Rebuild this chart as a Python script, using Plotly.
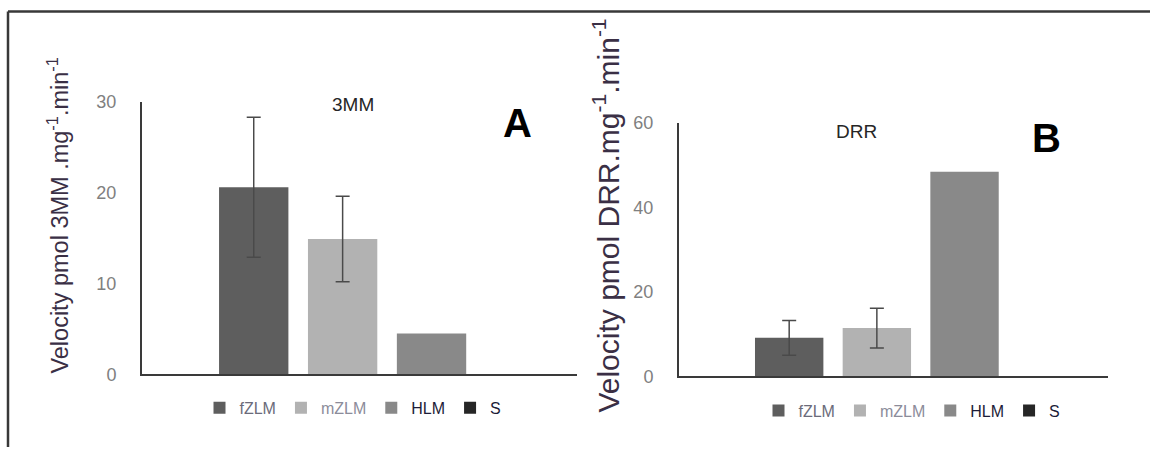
import plotly.graph_objects as go

# ---- data ----
series = ["fZLM", "mZLM", "HLM", "S"]
colors = ["#5e5e5e", "#b2b2b2", "#898989", "#262626"]
legend_text_colors = ["#6b6b7a", "#8c8c9a", "#1c1c38", "#1c1c38"]
vals_3mm = [20.6, 14.9, 4.5, 0.0]
err_3mm = [7.7, 4.7, None, None]
vals_drr = [9.1, 11.4, 48.4, 0.0]
err_drr = [4.1, 4.7, None, None]
yticks_a = [0, 10, 20, 30]
yticks_b = [0, 20, 40, 60]

W, H = 1150, 457
def px(x): return x / W
def py(y): return 1 - y / H

fig = go.Figure()
cat = [""]
for i, s in enumerate(series):
    name = f'<span style="color:{legend_text_colors[i]}">{s}</span>'
    for vals, errs, xa, ya, lg in [
        (vals_3mm, err_3mm, "x", "y", "legend"),
        (vals_drr, err_drr, "x2", "y2", "legend2"),
    ]:
        e = errs[i]
        fig.add_trace(go.Bar(
            x=cat, y=[vals[i]], name=name, marker_color=colors[i],
            marker_line_width=0, xaxis=xa, yaxis=ya, legend=lg,
            error_y=dict(type="data", array=[e] if e is not None else [0],
                         visible=e is not None, color="#4a4a4a",
                         thickness=1.5, width=7),
            hoverinfo="skip",
        ))

rng = [-0.5634, 0.4366]
axis_common = dict(showline=True, linecolor="#3a3a3a", linewidth=2,
                   showgrid=False, zeroline=False, ticks="",
                   tickfont=dict(family="Liberation Sans, Arial", size=18, color="#808080"))
legend_common = dict(orientation="h", xanchor="center", yanchor="middle",
                     font=dict(size=16, family="Liberation Sans Narrow, Arial Narrow, Liberation Sans"),
                     itemwidth=30, bgcolor="rgba(0,0,0,0)",
                     tracegroupgap=0, itemclick=False, itemdoubleclick=False)

fig.update_layout(
    width=W, height=H, margin=dict(l=0, r=0, t=0, b=0),
    paper_bgcolor="white", plot_bgcolor="white",
    barmode="group", bargap=0.1825, bargroupgap=0.22,
    font=dict(family="Liberation Sans, Arial"),
    xaxis=dict(domain=[px(142), px(577)], anchor="y", range=rng, showticklabels=False, **axis_common),
    yaxis=dict(domain=[py(381), py(96)], anchor="x", range=[0, 30], tickvals=yticks_a,
               ticklabelstandoff=20, **axis_common),
    xaxis2=dict(domain=[px(679), px(1108)], anchor="y2", range=rng, showticklabels=False, **axis_common),
    yaxis2=dict(domain=[py(383), py(118)], anchor="x2", range=[0, 60], tickvals=yticks_b,
                ticklabelstandoff=20, **axis_common),
    legend=dict(x=px(353), y=py(416), **legend_common),
    legend2=dict(x=px(912), y=py(419), **legend_common),
)

title_color = "#3a2f45"
def ann(text, x, y, size, color, angle=0):
    fig.add_annotation(text=text, x=px(x), y=py(y), xref="paper", yref="paper",
                       xanchor="center", yanchor="middle", textangle=angle,
                       showarrow=False, font=dict(size=size, color=color))

ann("Velocity pmol 3MM .mg<sup>-1</sup>.min<sup>-1</sup>", 58, 215, 23.5, title_color, -90)
ann("Velocity pmol DRR.mg<sup>-1</sup>.min<sup>-1</sup>", 606, 215, 30, title_color, -90)
ann("3MM", 353, 99, 19, "#262626")
ann("DRR", 856, 127, 19, "#262626")
ann("<b>A</b>", 517, 118, 40, "#000000")
ann("<b>B</b>", 1046, 134, 40, "#000000")

# frame lines (top and left)
fig.add_shape(type="line", xref="paper", yref="paper", x0=px(8), x1=1, y0=py(1.5), y1=py(1.5),
              line=dict(color="#383838", width=2.5))
fig.add_shape(type="line", xref="paper", yref="paper", x0=px(8), x1=px(8), y0=py(1.5), y1=0,
              line=dict(color="#383838", width=2.5))

fig.write_html("out.html", config={"displayModeBar": False},
               post_script="document.body.style.margin='0';")
